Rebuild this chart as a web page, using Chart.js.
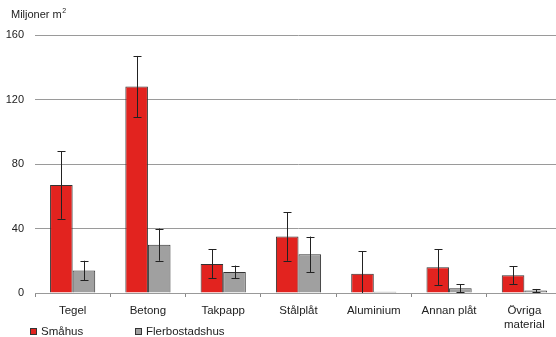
<!DOCTYPE html>
<html>
<head>
<meta charset="utf-8">
<script src="https://cdn.jsdelivr.net/npm/chart.js@4/dist/chart.umd.min.js"></script>
<style>
  html, body { margin: 0; padding: 0; background: #fff; overflow: hidden; }
  #wrap { position: relative; width: 562px; height: 337px; }
</style>
</head>
<body>
<div id="wrap"><canvas id="c"></canvas></div>
<script>
// Takmaterial, miljoner m² (med osäkerhetsintervall)
const categories = ['Tegel', 'Betong', 'Takpapp', 'Stålplåt', 'Aluminium', 'Annan plåt', ['Övriga', 'material']];
const smahus = [67, 128, 18, 35, 12, 16, 11];
const smahusErr = [21, 19, 9, 15, 14, 11, 5.5];
const flerbostadshus = [14, 30, 13, 24, 0.7, 3, 1.5];
const flerbostadshusErr = [6, 10, 4, 11, 0, 2.5, 1];
const yTicks = [0, 40, 80, 120, 160];
const seriesNames = ['Småhus', 'Flerbostadshus'];

const RED = '#e2231f';
const GREY = '#a0a0a0';
const EDGE = '#333333';
const TEXT = '#222222';
const FONT = 'Liberation Sans, Arial, sans-serif';

// Whiskers with caps drawn on top of each bar
const errorBars = {
  id: 'errorBars',
  afterDatasetsDraw(chart) {
    const ctx = chart.ctx;
    const y = chart.scales.y;
    const errs = [smahusErr, flerbostadshusErr];
    ctx.save();
    ctx.strokeStyle = '#222';
    ctx.lineWidth = 1;
    chart.data.datasets.forEach((ds, i) => {
      const meta = chart.getDatasetMeta(i);
      meta.data.forEach((bar, j) => {
        const e = errs[i][j];
        if (!e) return;
        const v = ds.data[j];
        const hi = y.getPixelForValue(v + e);
        const loVal = v - e;
        const lo = y.getPixelForValue(Math.max(loVal, 0));
        const x = Math.round(bar.x) + 0.5;
        ctx.beginPath();
        ctx.moveTo(x, hi);
        ctx.lineTo(x, lo);
        ctx.moveTo(x - 4, Math.round(hi) + 0.5);
        ctx.lineTo(x + 4, Math.round(hi) + 0.5);
        if (loVal >= 0) {
          ctx.moveTo(x - 4, Math.round(lo) + 0.5);
          ctx.lineTo(x + 4, Math.round(lo) + 0.5);
        }
        ctx.stroke();
      });
    });
    ctx.restore();
  }
};

// Axis unit and the series key below the chart
const annotations = {
  id: 'annotations',
  afterDraw(chart) {
    const ctx = chart.ctx;
    ctx.save();
    ctx.fillStyle = TEXT;
    ctx.font = '11px ' + FONT;
    ctx.textBaseline = 'alphabetic';
    ctx.textAlign = 'left';
    ctx.fillText('Miljoner m', 11, 18);
    const w = ctx.measureText('Miljoner m').width;
    ctx.font = '7px ' + FONT;
    ctx.fillText('2', 11 + w + 0.5, 13);

    const keys = [
      { x: 30, color: RED, label: seriesNames[0] },
      { x: 135, color: GREY, label: seriesNames[1] }
    ];
    ctx.font = '11.5px ' + FONT;
    ctx.textBaseline = 'middle';
    keys.forEach(k => {
      ctx.fillStyle = k.color;
      ctx.fillRect(k.x, 328, 7, 7);
      ctx.strokeStyle = EDGE;
      ctx.lineWidth = 1;
      ctx.strokeRect(k.x + 0.5, 328.5, 6, 6);
      ctx.fillStyle = TEXT;
      ctx.fillText(k.label, k.x + 11, 332);
    });
    ctx.restore();
  }
};

new Chart(document.getElementById('c'), {
  type: 'bar',
  data: {
    labels: categories,
    datasets: [
      { label: seriesNames[0], data: smahus, backgroundColor: RED, borderColor: EDGE, borderWidth: 1 },
      { label: seriesNames[1], data: flerbostadshus, backgroundColor: GREY, borderColor: EDGE, borderWidth: 1 }
    ]
  },
  options: {
    responsive: true,
    maintainAspectRatio: false,
    animation: false,
    layout: { padding: { top: 35, left: 0, right: 0, bottom: 0 } },
    plugins: { legend: { display: false }, tooltip: { enabled: false } },
    datasets: { bar: { categoryPercentage: 0.6, barPercentage: 1.0 } },
    scales: {
      x: {
        afterFit(s) { s.height = 44; },
        grid: { display: true, drawOnChartArea: false, offset: true, tickLength: 4, color: '#888' },
        border: { display: true, color: '#999' },
        ticks: { color: TEXT, font: { family: FONT, size: 11.5 }, padding: 7, maxRotation: 0, autoSkip: false }
      },
      y: {
        min: 0,
        max: 160,
        afterFit(s) { s.width = 35; },
        afterBuildTicks(s) { s.ticks = yTicks.map(v => ({ value: v })); },
        grid: { color: '#9a9a9a', drawTicks: false, lineWidth: 1 },
        border: { display: false },
        ticks: { color: TEXT, font: { family: FONT, size: 11 }, padding: 11 }
      }
    }
  },
  plugins: [errorBars, annotations]
});
</script>
</body>
</html>
